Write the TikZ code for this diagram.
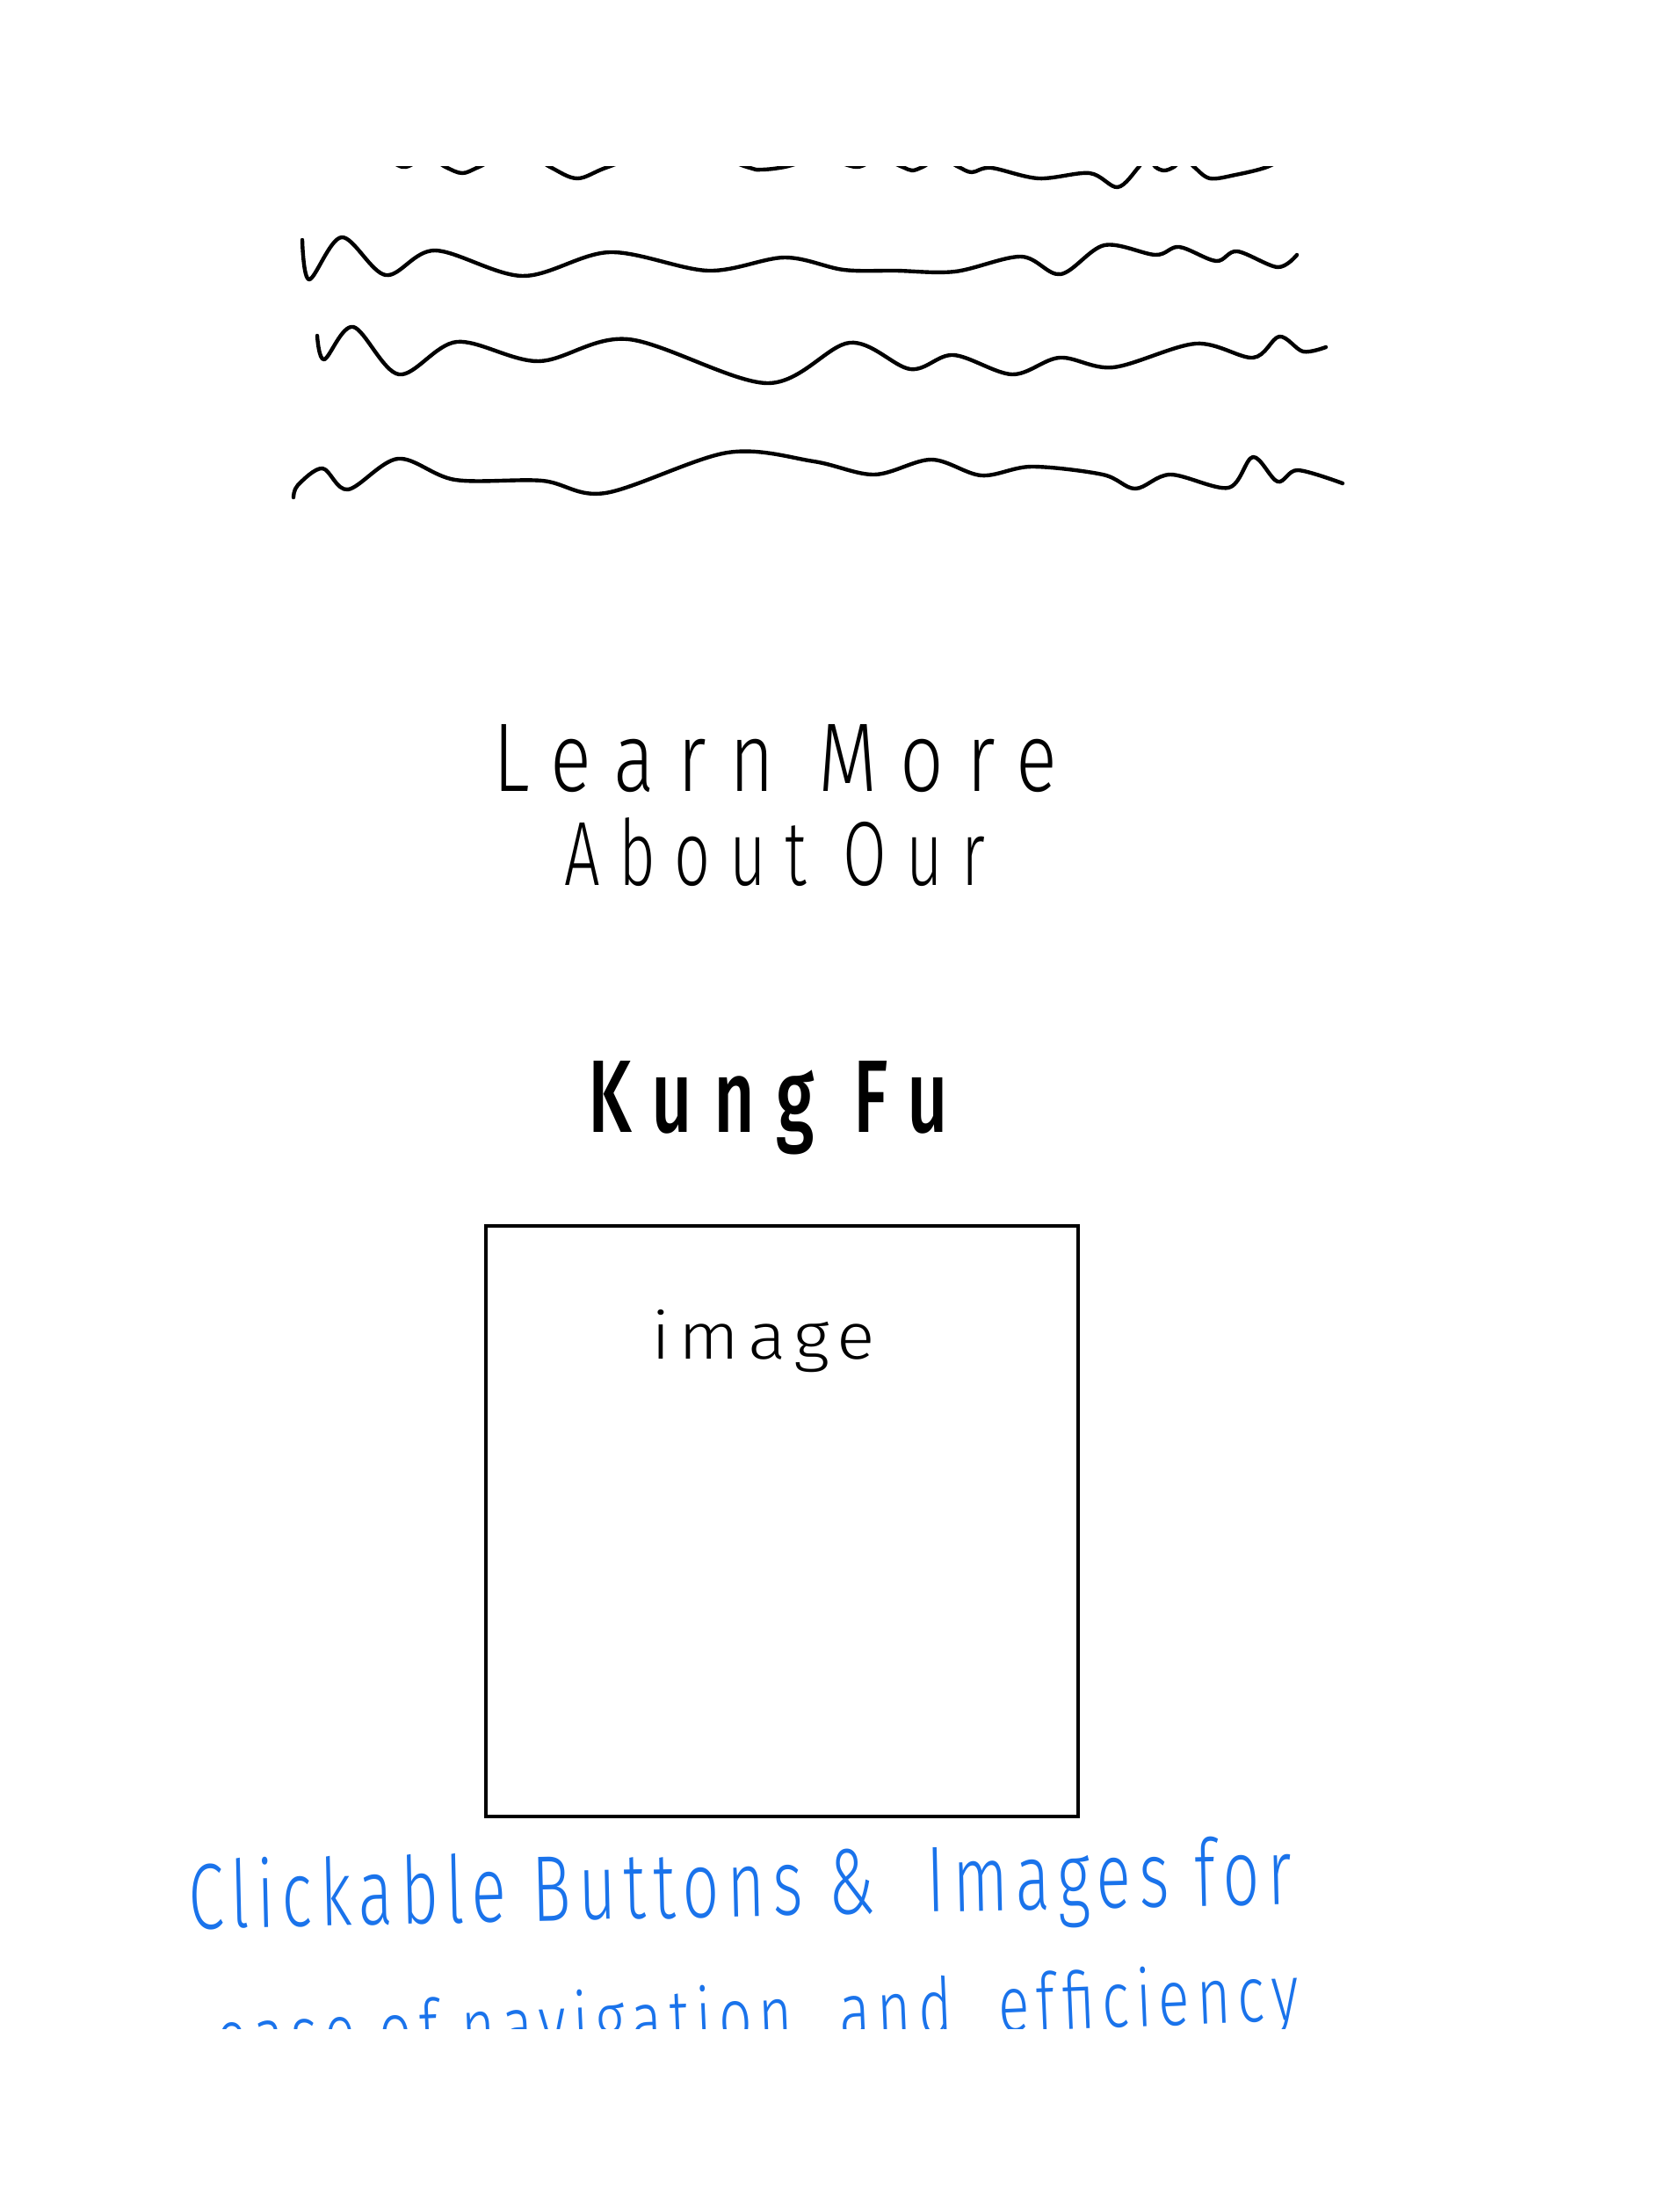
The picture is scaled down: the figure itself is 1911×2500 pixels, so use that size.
\documentclass[tikz,border=0pt]{standalone}
\usepackage{fontspec}
\setmainfont{Fira Sans}
\newfontfamily\handfont[LetterSpace=30]{Fira Sans Light}
\newfontfamily\handwide[LetterSpace=12]{Fira Sans Light}
\newfontfamily\handbold[LetterSpace=30]{Fira Sans Medium}
\usepackage{graphicx}
\definecolor{inkblue}{RGB}{26,115,235}
\tikzset{
  squiggle/.style={line width=1.25pt, line cap=round, line join=round},
  txt/.style={anchor=base west, inner sep=0pt, outer sep=0pt},
  frame/.style={draw, line width=1.1pt}
}
\begin{document}
\begin{tikzpicture}[x=0.01cm, y=-0.01cm]
\useasboundingbox (0,0) rectangle (1911,2500);
\fill[white] (0,0) rectangle (1911,2500);

% row 1 (clipped at top)
\begin{scope}
\clip (0,190) rectangle (1911,400);
\draw[squiggle] plot[smooth, tension=0.55] coordinates {
(420,165) (458,190) (485,178) (507,190) (526,197) (545,190) (590,170) (626,190)
(657,203) (692,190) (770,165) (850,190) (866,193) (893,190) (935,180) (975,190)
(1000,180) (1027,190) (1038,194) (1050,190) (1070,180) (1091,190) (1106,196)
(1128,191) (1182,203) (1240,197) (1272,213) (1296,190) (1305,178) (1315,190)
(1325,194) (1336,190) (1348,180) (1359,190) (1377,203) (1406,199) (1442,190) (1470,175)};
\end{scope}

% row 2
\draw[squiggle] plot[smooth, tension=0.55] coordinates {
(344,273) (352,318) (389,270) (439,313) (495,285) (595,314) (694,287) (806,308)
(893,293) (960,307) (1020,308) (1087,309) (1162,292) (1207,312) (1257,279)
(1315,290) (1342,281) (1384,297) (1408,286) (1454,304) (1476,290)};

% row 3
\draw[squiggle] plot[smooth, tension=0.55] coordinates {
(361,382) (369,409) (402,372) (454,426) (520,389) (613,411) (715,386) (873,436)
(967,390) (1036,420) (1085,404) (1152,426) (1206,407) (1267,418) (1361,391)
(1426,407) (1456,383) (1483,400) (1509,395)};

% row 4
\draw[squiggle] plot[smooth, tension=0.55] coordinates {
(334,566) (339,552) (367,533) (396,557) (453,522) (518,546) (617,547) (689,561)
(828,515) (926,525) (995,540) (1060,523) (1117,541) (1174,531) (1255,540)
(1292,556) (1332,540) (1398,555) (1426,520) (1454,548) (1477,535) (1528,550)};

% headings
\node[txt] (learn) at (561,900) {\resizebox{64.2mm}{7.6mm}{\handfont Learn More}};
\node[txt] (about) at (642,1007) {\resizebox{47.9mm}{7.7mm}{\handfont About Our}};
\node[txt] (kungfu) at (669,1288) {\resizebox{41mm}{8.1mm}{\handbold Kung Fu}};

% image box
\draw[frame] (553,1395) rectangle (1227,2067);
\node[txt] (imagelbl) at (741,1546) {\resizebox{25.5mm}{5.6mm}{\handwide image}};

% blue notes
\node[txt, rotate=1.3, text=inkblue] (note1) at (215,2195)
  {\resizebox{125.5mm}{8mm}{\handwide Clickable Buttons \& \ Images for}};
\begin{scope}
\clip (0,0) rectangle (1911,2308);
\node[txt, rotate=2.4, text=inkblue] (note2) at (247,2350)
  {\resizebox{123.3mm}{6.8mm}{\handwide ease of navigation \ and \ efficiency}};
\end{scope}
\end{tikzpicture}
\end{document}
